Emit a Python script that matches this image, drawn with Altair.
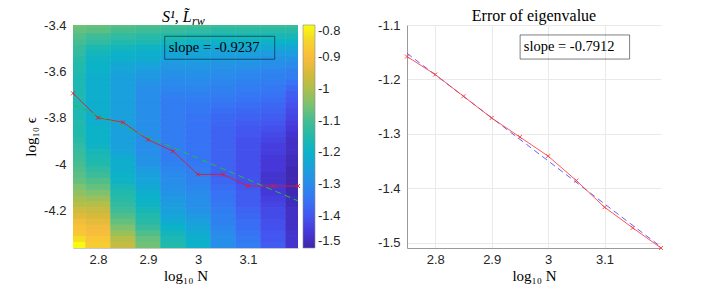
import altair as alt
import pandas as pd

# ---------------- data ----------------
logN = [2.75, 2.8, 2.85, 2.9, 2.95, 3.0, 3.05, 3.1, 3.15, 3.2]
eps_rows = [-3.4, -3.425, -3.45, -3.475, -3.5, -3.525, -3.55, -3.575, -3.6, -3.625,
            -3.65, -3.675, -3.7, -3.725, -3.75, -3.775, -3.8, -3.825, -3.85, -3.875,
            -3.9, -3.925, -3.95, -3.975, -4.0, -4.025, -4.05, -4.075, -4.1, -4.125,
            -4.15, -4.175, -4.2, -4.225, -4.25, -4.275, -4.3, -4.325, -4.35]

col_275 = [-1.06, -1.07, -1.09, -1.10, -1.12, -1.13, -1.14,
           -1.15, -1.15, -1.16, -1.16, -1.16, -1.16, -1.16, -1.16, -1.16, -1.16, -1.15, -1.15, -1.15,
           -1.14, -1.13, -1.12, -1.11, -1.10, -1.09, -1.08, -1.07, -1.05, -1.03, -1.01, -0.99,
           -0.96, -0.94, -0.91, -0.89, -0.88, -0.84, -0.80]
col_280 = [-1.07, -1.08, -1.11, -1.13, -1.16, -1.18, -1.19,
           -1.20, -1.20, -1.21, -1.21, -1.21, -1.21, -1.21, -1.21, -1.21, -1.21, -1.21, -1.20, -1.20,
           -1.20, -1.19, -1.17, -1.16, -1.15, -1.13, -1.11, -1.09, -1.07, -1.05, -1.02, -0.99,
           -0.97, -0.95, -0.93, -0.91, -0.90, -0.88, -0.87]
col_285 = [-1.08, -1.10, -1.13, -1.15, -1.18, -1.20, -1.21,
           -1.23, -1.24, -1.25, -1.25, -1.25, -1.25, -1.25, -1.25, -1.25, -1.25, -1.25, -1.25, -1.25,
           -1.25, -1.25, -1.24, -1.22, -1.21, -1.21, -1.20, -1.19, -1.17, -1.15, -1.14, -1.13,
           -1.11, -1.09, -1.07, -1.05, -1.02, -0.99, -0.97]
col_290 = [-1.09, -1.11, -1.14, -1.16, -1.19, -1.21, -1.22,
           -1.24, -1.26, -1.27, -1.28, -1.29, -1.29, -1.29, -1.29, -1.29, -1.29, -1.29, -1.29, -1.29,
           -1.29, -1.29, -1.29, -1.28, -1.28, -1.26, -1.25, -1.24, -1.23, -1.21, -1.20, -1.19,
           -1.17, -1.15, -1.14, -1.12, -1.09, -1.07, -1.06]
col_295 = [-1.10, -1.12, -1.15, -1.18, -1.21, -1.23, -1.25,
           -1.27, -1.28, -1.29, -1.30, -1.31, -1.32, -1.33, -1.33, -1.33, -1.33, -1.33, -1.33, -1.33,
           -1.33, -1.33, -1.33, -1.33, -1.32, -1.31, -1.30, -1.29, -1.29, -1.28, -1.27, -1.26,
           -1.25, -1.24, -1.22, -1.20, -1.18, -1.16, -1.15]
col_300 = [-1.10, -1.13, -1.16, -1.19, -1.22, -1.24, -1.25,
           -1.27, -1.28, -1.29, -1.30, -1.31, -1.32, -1.33, -1.34, -1.34, -1.35, -1.35, -1.35, -1.35,
           -1.35, -1.35, -1.35, -1.35, -1.34, -1.33, -1.32, -1.32, -1.31, -1.30, -1.29, -1.29,
           -1.28, -1.27, -1.25, -1.24, -1.22, -1.21, -1.20]
col_305 = [-1.11, -1.14, -1.17, -1.20, -1.23, -1.25, -1.26,
           -1.28, -1.29, -1.30, -1.31, -1.32, -1.33, -1.34, -1.35, -1.36, -1.37, -1.37, -1.38, -1.38,
           -1.38, -1.38, -1.38, -1.38, -1.38, -1.38, -1.38, -1.37, -1.36, -1.35, -1.35, -1.34,
           -1.33, -1.32, -1.32, -1.31, -1.30, -1.29, -1.29]
col_310 = [-1.11, -1.14, -1.17, -1.20, -1.23, -1.25, -1.27,
           -1.28, -1.30, -1.31, -1.32, -1.33, -1.34, -1.35, -1.36, -1.37, -1.38, -1.39, -1.40, -1.40,
           -1.41, -1.41, -1.41, -1.41, -1.41, -1.41, -1.41, -1.41, -1.40, -1.39, -1.39, -1.39,
           -1.38, -1.37, -1.36, -1.36, -1.35, -1.34, -1.33]
col_315 = [-1.11, -1.14, -1.17, -1.20, -1.23, -1.26, -1.28,
           -1.29, -1.31, -1.32, -1.33, -1.34, -1.35, -1.36, -1.37, -1.38, -1.39, -1.40, -1.41, -1.42,
           -1.43, -1.44, -1.44, -1.45, -1.45, -1.45, -1.46, -1.46, -1.45, -1.45, -1.44, -1.43,
           -1.42, -1.42, -1.41, -1.41, -1.40, -1.40, -1.39]
col_320 = [-1.11, -1.14, -1.17, -1.20, -1.23, -1.26, -1.28,
           -1.30, -1.32, -1.33, -1.35, -1.37, -1.39, -1.40, -1.41, -1.42, -1.43, -1.44, -1.45, -1.46,
           -1.47, -1.47, -1.47, -1.48, -1.48, -1.49, -1.49, -1.49, -1.49, -1.49, -1.48, -1.48,
           -1.47, -1.47, -1.47, -1.47, -1.46, -1.46, -1.46]
heat_cols = [col_275, col_280, col_285, col_290, col_295,
             col_300, col_305, col_310, col_315, col_320]

# optimal log10(eps) per N (red) and its linear fit (green dashed)
opt_eps = [-3.695, -3.8, -3.82, -3.895, -3.945, -4.045, -4.045, -4.095, -4.095, -4.095]
fit_left_x = [2.75, 3.2]
fit_left_y = [-3.745, -4.159]

# eigenvalue error (red) and its linear fit (blue dashed)
eig_err = [-1.158, -1.191, -1.231, -1.271, -1.306, -1.341, -1.386, -1.435, -1.473, -1.51]
fit_right_x = [2.75, 3.2]
fit_right_y = [-1.152, -1.508]

slope_left = "slope = -0.9237"
slope_right = "slope = -0.7912"

# colour scale (parula-like)
cb_ticks = [-1.5, -1.4, -1.3, -1.2, -1.1, -1.0, -0.9, -0.8]
par_dom = [-1.5, -1.45, -1.4, -1.35, -1.3, -1.25, -1.2, -1.15, -1.1, -1.05,
           -1.0, -0.95, -0.9, -0.85, -0.8]
par_col = ['#3e26a8', '#4637d8', '#4356f0', '#3673f5', '#2a8bec', '#1aa0dc',
           '#0bb2c8', '#22b9ad', '#45bd91', '#7cc270', '#acbf4c', '#d8ba3a',
           '#f9bd3c', '#f5d52b', '#f9fb0e']

# ---------------- frames ----------------
HX, HY = 0.0255, 0.0140   # half cell sizes, slightly enlarged so cells overlap (no seams)
heat_records = []
for xc, vals in zip(logN, heat_cols):
    for yc, v in zip(eps_rows, vals):
        heat_records.append({"x0": xc - HX, "x1": xc + HX,
                             "y0": yc - HY, "y1": yc + HY, "v": v})
heat_df = pd.DataFrame(heat_records)
left_df = pd.DataFrame({"logN": logN, "val": opt_eps})
left_fit = pd.DataFrame({"logN": fit_left_x, "val": fit_left_y})
right_df = pd.DataFrame({"logN": logN, "val": eig_err})
right_fit = pd.DataFrame({"logN": fit_right_x, "val": fit_right_y})
box_left = pd.DataFrame({"bx0": [2.9334], "bx1": [3.1534], "by0": [-3.4487], "by1": [-3.5478],
                         "tx": [2.9414], "ty": [-3.4985], "label": [slope_left]})
box_right = pd.DataFrame({"bx0": [2.9504], "bx1": [3.1444], "by0": [-1.1183], "by1": [-1.1626],
                          "tx": [2.9570], "ty": [-1.1400], "label": [slope_right]})

# ---------------- scales / axes ----------------
W_L, W_R, H = 225, 254, 223
sx = alt.Scale(domain=[2.75, 3.2], nice=False, zero=False)
syL = alt.Scale(domain=[-4.3625, -3.4], nice=False, zero=False)
syR = alt.Scale(domain=[-1.51, -1.1], nice=False, zero=False)
cscale = alt.Scale(domain=par_dom, range=par_col, interpolate="rgb")

LBL = dict(labelFont="Liberation Sans", labelFontSize=13, labelColor="#262626",
           ticks=False, tickSize=0, labelExpr="toString(datum.value)",
           titleFont="Liberation Serif", titleFontSize=15, titleFontWeight="normal",
           titleColor="black")

ax_xL = alt.Axis(values=[2.8, 2.9, 3.0, 3.1], grid=False, domainColor="#c8c8c8",
                 labelPadding=5, titlePadding=2, **LBL)
ax_yL = alt.Axis(values=[-3.4, -3.6, -3.8, -4.0, -4.2], grid=False, domainColor="#c8c8c8",
                 labelPadding=7, titlePadding=5, **LBL)
ax_xR = alt.Axis(values=[2.8, 2.9, 3.0, 3.1], grid=True, gridColor="#e9e9e9",
                 domainColor="#9a9a9a", labelPadding=5, titlePadding=2, **LBL)
ax_yR = alt.Axis(values=[-1.1, -1.2, -1.3, -1.4, -1.5], grid=True, gridColor="#e9e9e9",
                 domainColor="#9a9a9a", labelPadding=7, **LBL)


def XL(field):
    return alt.X(f"{field}:Q", scale=sx, axis=ax_xL, title="log₁₀ N")


def YL(field):
    return alt.Y(f"{field}:Q", scale=syL, axis=ax_yL, title="log₁₀ ϵ")


def XR(field):
    return alt.X(f"{field}:Q", scale=sx, axis=ax_xR, title="log₁₀ N")


def YR(field):
    return alt.Y(f"{field}:Q", scale=syR, axis=ax_yR, title=None)


XSHAPE = "M-1,-1L1,1M-1,1L1,-1"

# ---------------- left panel ----------------
heat = alt.Chart(heat_df).mark_rect(clip=True, strokeWidth=0).encode(
    x=XL("x0"), x2="x1", y=YL("y0"), y2="y1",
    color=alt.Color("v:Q", scale=cscale, title=None,
                    legend=alt.Legend(type="gradient", orient="right", direction="vertical",
                                      gradientLength=H, gradientThickness=12,
                                      offset=5, labelOffset=3, padding=0,
                                      labelFont="Liberation Sans", labelFontSize=13,
                                      labelColor="#262626", values=cb_ticks,
                                      labelExpr="toString(datum.value)",
                                      gradientStrokeColor="#8a8a8a",
                                      gradientStrokeWidth=0.6)),
)
l_line = alt.Chart(left_df).mark_line(color="#e3192f", strokeWidth=1, opacity=0.85).encode(
    x=XL("logN"), y=YL("val"))
l_pts = alt.Chart(left_df).mark_point(shape=XSHAPE, filled=False, size=16, strokeWidth=1,
                                      color="#e3192f", opacity=0.9).encode(
    x=XL("logN"), y=YL("val"))
l_fit = alt.Chart(left_fit).mark_line(color="#1fc040", strokeWidth=1, strokeDash=[6, 4]).encode(
    x=XL("logN"), y=YL("val"))
l_box = alt.Chart(box_left).mark_rect(fillOpacity=0, stroke="black", strokeOpacity=0.5,
                                      strokeWidth=1).encode(
    x=XL("bx0"), x2="bx1", y=YL("by0"), y2="by1")
l_txt = alt.Chart(box_left).mark_text(align="left", baseline="middle", font="Liberation Serif",
                                      fontSize=14.5, color="black").encode(
    x=XL("tx"), y=YL("ty"), text="label:N")
l_t1 = alt.Chart(box_left).mark_text(text="S¹, L\u0303", align="left", baseline="alphabetic",
                                     font="Liberation Serif", fontStyle="italic",
                                     fontSize=16, color="black").encode(
    x=alt.value(89), y=alt.value(-3))
l_t2 = alt.Chart(box_left).mark_text(text="rw", align="left", baseline="alphabetic",
                                     font="Liberation Serif", fontStyle="italic",
                                     fontSize=12, color="black").encode(
    x=alt.value(119), y=alt.value(0))

left = alt.layer(heat, l_line, l_pts, l_fit, l_box, l_txt, l_t1, l_t2).properties(
    width=W_L, height=H)

# ---------------- right panel ----------------
r_fit = alt.Chart(right_fit).mark_line(color="#4646ff", strokeWidth=1, strokeDash=[6, 4],
                                       opacity=0.85).encode(x=XR("logN"), y=YR("val"))
r_line = alt.Chart(right_df).mark_line(color="#ff3a3a", strokeWidth=1, opacity=0.85).encode(
    x=XR("logN"), y=YR("val"))
r_pts = alt.Chart(right_df).mark_point(shape=XSHAPE, filled=False, size=16, strokeWidth=1,
                                       color="#ff3a3a", opacity=0.9).encode(
    x=XR("logN"), y=YR("val"))
r_box = alt.Chart(box_right).mark_rect(fillOpacity=0, stroke="black", strokeOpacity=0.5,
                                       strokeWidth=1).encode(
    x=XR("bx0"), x2="bx1", y=YR("by0"), y2="by1")
r_txt = alt.Chart(box_right).mark_text(align="left", baseline="middle", font="Liberation Serif",
                                       fontSize=14.5, color="black").encode(
    x=XR("tx"), y=YR("ty"), text="label:N")
r_title = alt.Chart(box_right).mark_text(text="Error of eigenvalue", align="center",
                                         baseline="alphabetic", font="Liberation Serif",
                                         fontSize=16, color="black").encode(
    x=alt.value(W_R / 2), y=alt.value(-4))

right = alt.layer(r_fit, r_line, r_pts, r_box, r_txt, r_title).properties(width=W_R, height=H)

chart = alt.hconcat(left, right, spacing=35).resolve_scale(
    x="independent", y="independent", color="independent"
).properties(
    padding={"left": 15, "top": -1, "right": 5, "bottom": 0},
    background="white",
).configure_view(stroke="transparent")

chart.save("out.html", embed_options={"renderer": "svg", "actions": False})
